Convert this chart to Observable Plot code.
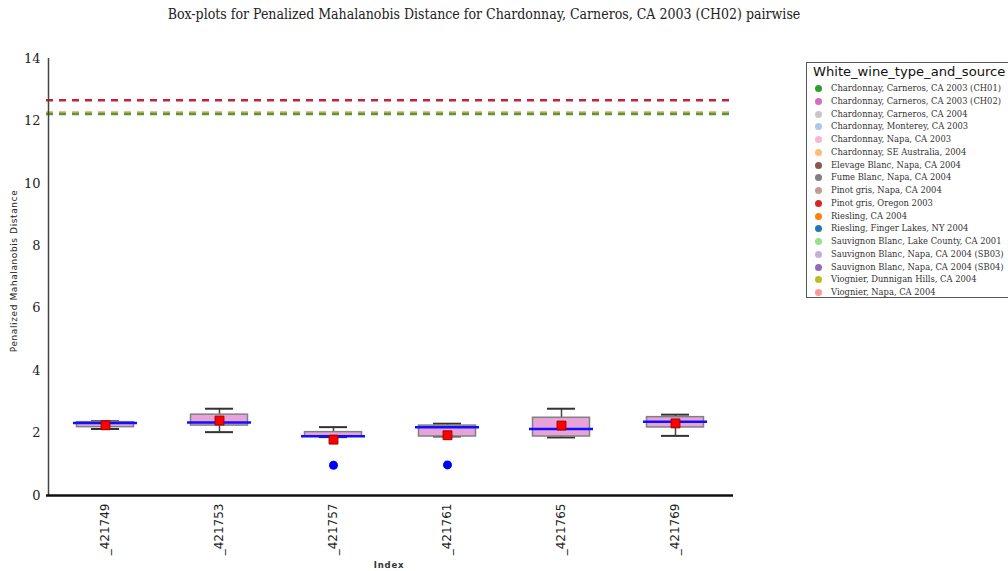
<!DOCTYPE html>
<html>
<head>
<meta charset="utf-8">
<script src="https://cdn.jsdelivr.net/npm/d3@7"></script>
<script src="https://cdn.jsdelivr.net/npm/@observablehq/plot@0.6"></script>
<style>
  body { margin: 0; background: #fff; }
  #wrap { position: relative; width: 1008px; height: 571px; overflow: hidden; background: #fff; }
  #title { position: absolute; top: 6px; left: 0; width: 968px; text-align: center;
           font-family: "DejaVu Serif", serif; font-stretch: condensed; font-size: 14px; color: #222; }
  #ylab { position: absolute; left: 14px; top: 271px; transform: translate(-50%, -50%) rotate(-90deg);
          font-family: "DejaVu Sans", sans-serif; font-size: 9px; color: #222; white-space: nowrap; letter-spacing: 0.6px; }
  #xlab { position: absolute; left: 389px; top: 560px; transform: translateX(-50%);
          font-family: "DejaVu Sans", sans-serif; font-size: 8.5px; font-weight: bold; color: #333; letter-spacing: 0.8px; }
  #legend { position: absolute; left: 806px; top: 62px; width: 215px; height: 236px;
            border: 1px solid #555; box-sizing: border-box; background: #fff; }
  #legend .lt { position: absolute; left: 6px; top: 1px; font-family: "DejaVu Sans", sans-serif;
                font-size: 13.1px; color: #111; white-space: nowrap; }
  #legend .it { position: absolute; left: 8px; height: 12px; font-family: "DejaVu Serif", serif;
                font-stretch: condensed; font-size: 9.3px; color: #333; white-space: nowrap; line-height: 12px; }
  #legend .dot { display: inline-block; width: 7px; height: 7px; border-radius: 50%; margin-right: 9px; vertical-align: -1px; }
  svg { position: absolute; left: 0; top: 0; }
</style>
</head>
<body>
<div id="wrap">
  <div id="title">Box-plots for Penalized Mahalanobis Distance for Chardonnay, Carneros, CA 2003 (CH02) pairwise</div>
  <div id="ylab">Penalized Mahalanobis Distance</div>
  <div id="xlab">Index</div>
  <div id="legend"><div class="lt">White_wine_type_and_source</div></div>
</div>
<script>
// ---- data ----
const indexLabels = ["_421749", "_421753", "_421757", "_421761", "_421765", "_421769"];
const q1 =          [2.19, 2.24, 1.90, 1.89, 1.89, 2.18];
const q3 =          [2.35, 2.59, 2.03, 2.24, 2.49, 2.51];
const medians =     [2.32, 2.34, 1.90, 2.19, 2.13, 2.36];
const means =       [2.25, 2.40, 1.79, 1.93, 2.24, 2.31];
const whiskerLow =  [2.13, 2.03, 1.87, 1.89, 1.86, 1.91];
const whiskerHigh = [2.38, 2.78, 2.19, 2.30, 2.78, 2.59];
const outlierIndex = ["_421757", "_421761"];
const outlierValue = [0.97, 0.98];
const thresholdValues = [12.66, 12.27, 12.22];
const thresholdColors = ["#c8203a", "#f0a650", "#4f9a3c"];
const yTicks = [0, 2, 4, 6, 8, 10, 12, 14];
const legendTitle = "White_wine_type_and_source";
const legendLabels = [
  "Chardonnay, Carneros, CA 2003 (CH01)",
  "Chardonnay, Carneros, CA 2003 (CH02)",
  "Chardonnay, Carneros, CA 2004",
  "Chardonnay, Monterey, CA 2003",
  "Chardonnay, Napa, CA 2003",
  "Chardonnay, SE Australia, 2004",
  "Elevage Blanc, Napa, CA 2004",
  "Fume Blanc, Napa, CA 2004",
  "Pinot gris, Napa, CA 2004",
  "Pinot gris, Oregon 2003",
  "Riesling, CA 2004",
  "Riesling, Finger Lakes, NY 2004",
  "Sauvignon Blanc, Lake County, CA 2001",
  "Sauvignon Blanc, Napa, CA 2004 (SB03)",
  "Sauvignon Blanc, Napa, CA 2004 (SB04)",
  "Viognier, Dunnigan Hills, CA 2004",
  "Viognier, Napa, CA 2004"
];
const legendColors = [
  "#2ca02c", "#d36bc0", "#c7c7c7", "#aec7e8", "#f7b6d2", "#ffbb78", "#8c564b", "#7f7f7f",
  "#c49c94", "#d62728", "#ff7f0e", "#1f77b4", "#98df8a", "#c5b0d5", "#9467bd", "#bcbd22", "#ff9896"
];

// ---- tables ----
const boxes = indexLabels.map((k, i) => ({
  k, q1: q1[i], q3: q3[i], med: medians[i], mean: means[i], lo: whiskerLow[i], hi: whiskerHigh[i]
}));
const outliers = outlierIndex.map((k, i) => ({k, v: outlierValue[i]}));
const thresholds = thresholdValues.map((v, i) => ({v, c: thresholdColors[i]}));

const chart = Plot.plot({
  width: 1008,
  height: 571,
  marginLeft: 46,
  marginRight: 275,
  marginTop: 58,
  marginBottom: 76,
  style: {background: "transparent", fontFamily: "DejaVu Serif, serif", color: "#222"},
  x: {domain: indexLabels, padding: 0, label: null},
  y: {domain: [0, 14], label: null},
  marks: [
    Plot.ruleY(thresholds, {y: "v", stroke: "c", strokeWidth: 2.5, strokeDasharray: "7,6"}),
    Plot.ruleX(boxes, {x: "k", y1: "lo", y2: "hi", stroke: "#444", strokeWidth: 1.5}),
    Plot.tickY(boxes, {x: "k", y: "hi", stroke: "#333", strokeWidth: 2, insetLeft: 43, insetRight: 43}),
    Plot.tickY(boxes, {x: "k", y: "lo", stroke: "#333", strokeWidth: 2, insetLeft: 43, insetRight: 43}),
    Plot.rectY(boxes, {x: "k", y1: "q1", y2: "q3", fill: "#e8a3d8", stroke: "#808080", strokeWidth: 1.5, insetLeft: 28.5, insetRight: 28.5}),
    Plot.tickY(boxes, {x: "k", y: "med", stroke: "#1010ff", strokeWidth: 2.5, insetLeft: 25, insetRight: 25}),
    Plot.dot(boxes, {x: "k", y: "mean", symbol: "square", r: 5, fill: "#ff0000", stroke: "#a00000", strokeWidth: 1}),
    Plot.dot(outliers, {x: "k", y: "v", r: 4.5, fill: "#0000ff", stroke: "none"}),
    Plot.axisY({ticks: yTicks, tickSize: 0, tickPadding: 6, fontSize: 13, fontFamily: "DejaVu Serif, serif", label: null}),
    Plot.axisX({tickRotate: -90, tickSize: 0, tickPadding: 8, fontSize: 12, fontFamily: "DejaVu Sans, sans-serif", label: null}),
    Plot.ruleX([0], {x: () => indexLabels[0], dx: -57, y1: 0, y2: 14, stroke: "#444", strokeWidth: 1.5}),
    Plot.ruleY([0], {stroke: "#111", strokeWidth: 2.5})
  ]
});
document.getElementById("wrap").appendChild(chart);

// legend
const lg = document.getElementById("legend");
lg.querySelector(".lt").textContent = legendTitle;
legendLabels.forEach((lab, i) => {
  const d = document.createElement("div");
  d.className = "it";
  d.style.top = (19 + i * 12.75) + "px";
  const s = document.createElement("span");
  s.className = "dot";
  s.style.background = legendColors[i];
  d.appendChild(s);
  d.appendChild(document.createTextNode(lab));
  lg.appendChild(d);
});
</script>
</body>
</html>
